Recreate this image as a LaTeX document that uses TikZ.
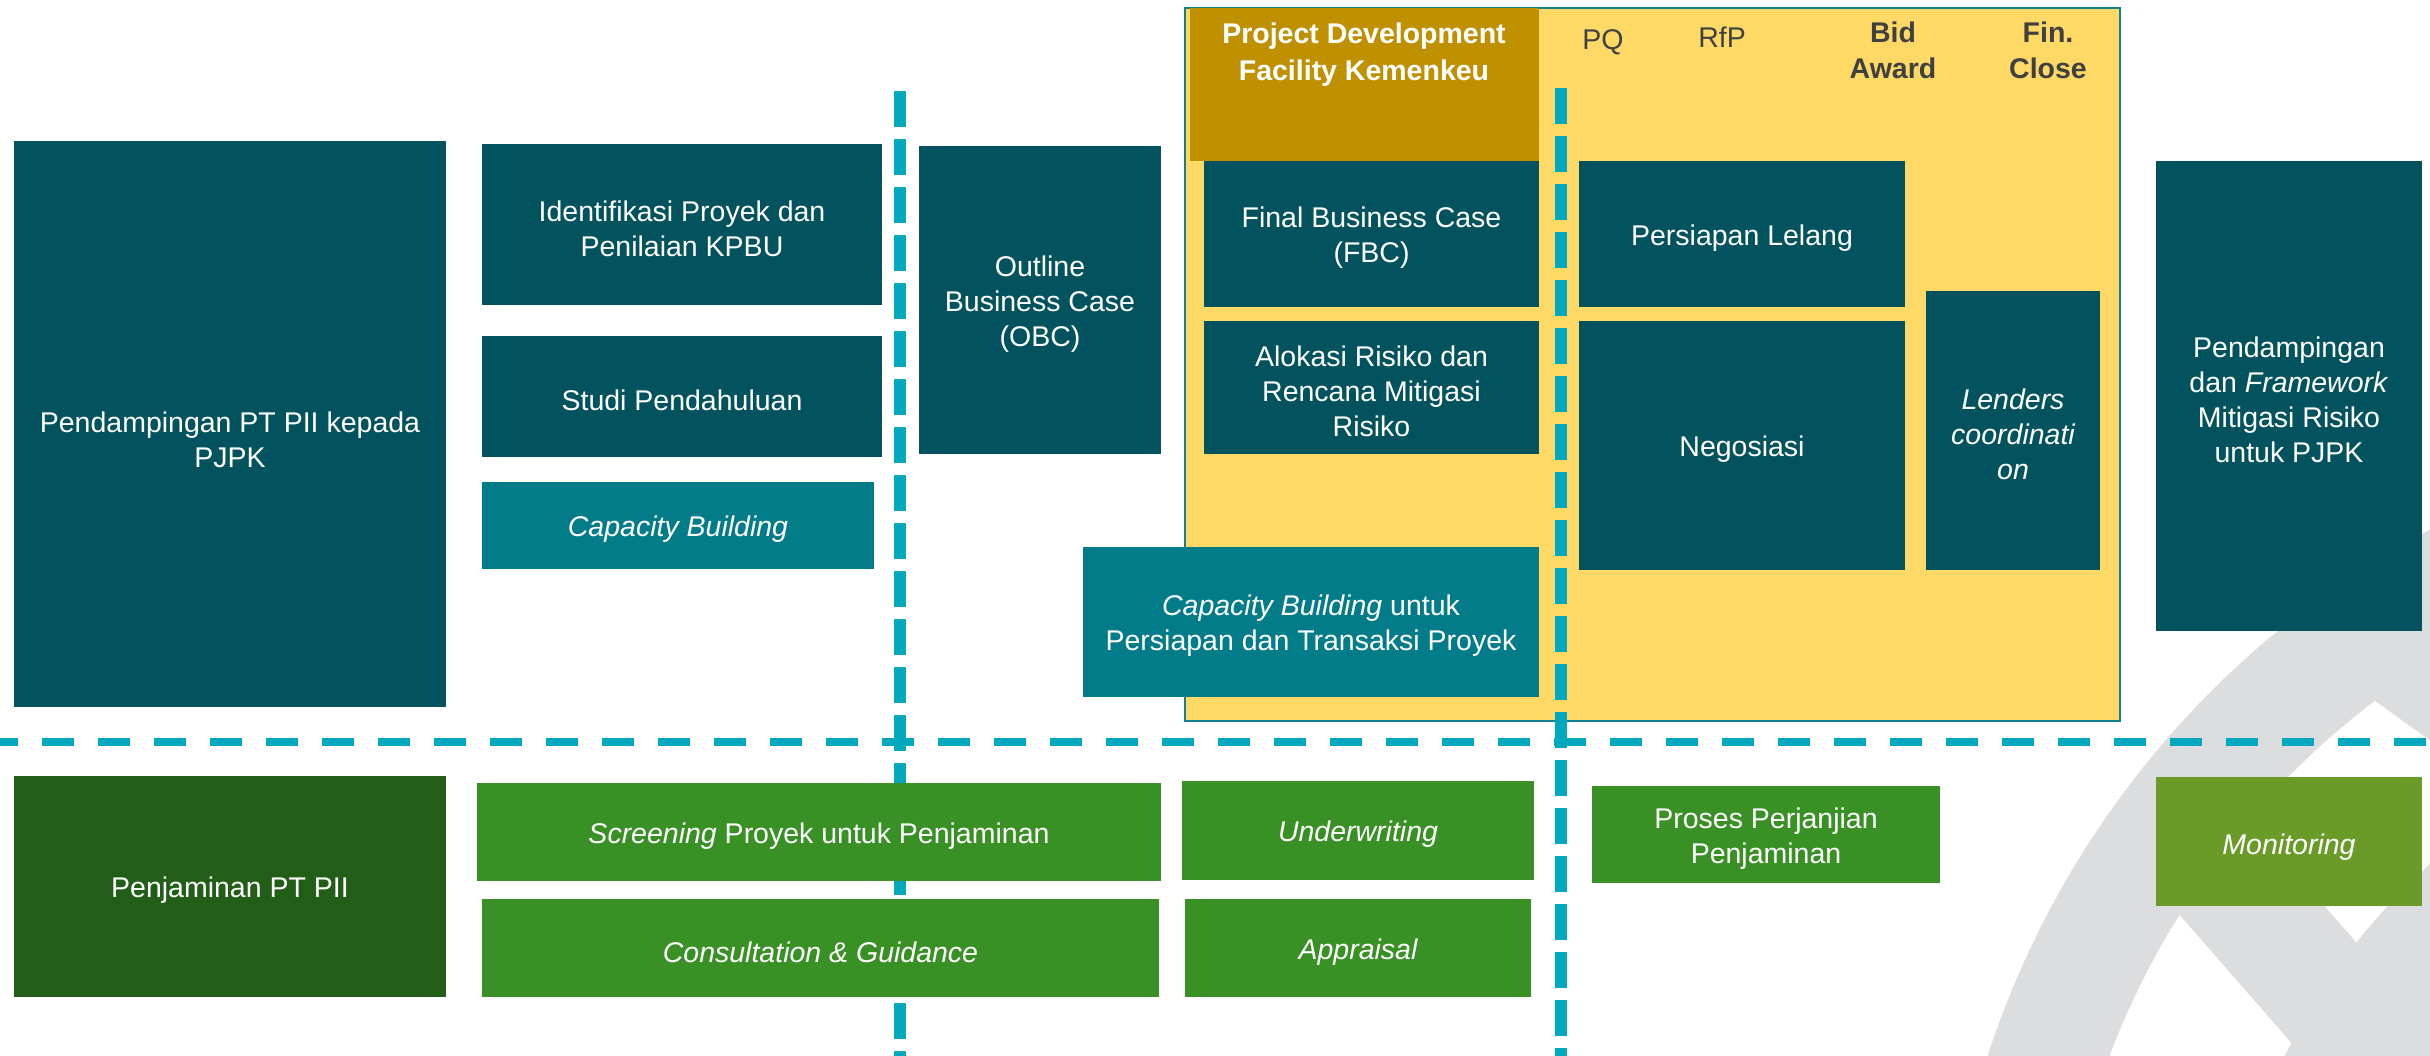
\documentclass[tikz,border=0pt]{standalone}
\usepackage{fontspec}
\setmainfont{Liberation Sans}
\definecolor{cDteal}{RGB}{2,83,94}
\definecolor{cTeal}{RGB}{3,124,138}
\definecolor{cYel}{RGB}{255,217,102}
\definecolor{cGold}{RGB}{191,144,0}
\definecolor{cBorder}{RGB}{20,128,140}
\definecolor{cDgreen}{RGB}{35,94,25}
\definecolor{cGreen}{RGB}{57,145,37}
\definecolor{cLgreen}{RGB}{106,155,41}
\definecolor{cLine}{RGB}{4,168,190}
\definecolor{cHead}{RGB}{64,64,64}
\definecolor{cWm}{RGB}{220,221,222}
% box with its text shifted down by the optional amount (px)
\newcommand\bx[6][4]{%
  \node[#2, minimum width=#4pt, minimum height=#5pt] (#3) at (#3pos) {};%
  \node[txt] (#3t) at ([yshift=-#1pt]#3.center) {#6};}
\begin{document}
\begin{tikzpicture}[x=1pt,y=-1pt,
  every node/.style={inner sep=0pt, outer sep=0pt},
  txt/.style={align=center, text=white, font=\fontsize{28.5}{35}\selectfont},
  blk/.style={rectangle, anchor=north west},
  dteal/.style={blk, fill=cDteal},
  lteal/.style={blk, fill=cTeal},
  dgreen/.style={blk, fill=cDgreen},
  green/.style={blk, fill=cGreen},
  lgreen/.style={blk, fill=cLgreen},
  head/.style={align=center, text=cHead, font=\fontsize{28.5}{36}\selectfont},
  hline/.style={draw=cLine, line width=8pt, dash pattern=on 32pt off 24pt},
  vline/.style={draw=cLine, line width=12pt, dash pattern=on 36pt off 12pt},
  wm/.style={draw=cWm, line width=115pt}
]
\useasboundingbox (0,0) rectangle (2430,1056);
\begin{scope}
\clip (0,0) rectangle (2430,1056);
\fill[white] (0,0) rectangle (2430,1056);
% watermark
\draw[wm] ([shift={(2860,1340)}]193:860) arc[start angle=193, end angle=247, radius=860];
\draw[wm] ([shift={(2860,1340)}]200:584) arc[start angle=200, end angle=236, radius=584];
\coordinate (wd1) at (2215,868);
\coordinate (wd2) at (2470,1160);
\draw[wm] (wd1) -- (wd2);
\coordinate (wf1) at (2316,587);
\coordinate (wf2) at (2530,742);
\draw[wm] (wf1) -- (wf2);

% yellow phase box
\node[blk, fill=cYel, draw=cBorder, line width=2.5pt, minimum width=935pt, minimum height=713pt] (yel) at (1185,8) {};

% dashed lines
\coordinate (h1) at (-14,742);
\coordinate (h2) at (2450,742);
\draw[hline] (h1) -- (h2);
\coordinate (v1a) at (900,91);
\coordinate (v1b) at (900,1070);
\draw[vline] (v1a) -- (v1b);
\coordinate (v2a) at (1561,88);
\coordinate (v2b) at (1561,1070);
\draw[vline] (v2a) -- (v2b);

% headers
\node[blk, fill=cGold, minimum width=349pt, minimum height=153pt] (pdf) at (1190,8) {};
\node[anchor=north, align=center, text=white, font=\bfseries\fontsize{28.5}{37}\selectfont] (pdft) at (1364,23) {Project Development\\Facility Kemenkeu};
\node[head] (pq) at (1603,42) {PQ};
\node[head] (rfp) at (1722,37) {RfP};
\node[head, font=\bfseries\fontsize{28.5}{36}\selectfont] (bid) at (1893,50) {Bid\\Award};
\node[head, font=\bfseries\fontsize{28.5}{36}\selectfont] (fin) at (2048,50) {Fin.\\Close};

% positions (top-left corners)
\coordinate (pendpos) at (14,141);
\coordinate (identpos) at (482,144);
\coordinate (studipos) at (482,336);
\coordinate (cap1pos) at (482,482);
\coordinate (obcpos) at (919,146);
\coordinate (fbcpos) at (1204,161);
\coordinate (alokpos) at (1204,321);
\coordinate (cap2pos) at (1083,547);
\coordinate (lelangpos) at (1579,161);
\coordinate (negopos) at (1579,321);
\coordinate (lendpos) at (1926,291);
\coordinate (pfwpos) at (2156,161);
\coordinate (penjpos) at (14,776);
\coordinate (scrpos) at (477,783);
\coordinate (conspos) at (482,899);
\coordinate (underpos) at (1182,781);
\coordinate (apprpos) at (1185,899);
\coordinate (prosespos) at (1592,786);
\coordinate (monipos) at (2156,777);

% top row (pendampingan)
\bx[16]{dteal}{pend}{432}{566}{Pendampingan PT PII kepada\\PJPK}
\bx{dteal}{ident}{400}{161}{Identifikasi Proyek dan\\Penilaian KPBU}
\bx{dteal}{studi}{400}{121}{Studi Pendahuluan}
\bx{lteal}{cap1}{392}{87}{\itshape Capacity Building}
\bx{dteal}{obc}{242}{308}{Outline\\Business Case\\(OBC)}
\bx{dteal}{fbc}{335}{146}{Final Business Case\\(FBC)}
\bx{dteal}{alok}{335}{133}{Alokasi Risiko dan\\Rencana Mitigasi\\Risiko}
\bx{lteal}{cap2}{456}{150}{\textit{Capacity Building} untuk\\Persiapan dan Transaksi Proyek}
\bx{dteal}{lelang}{326}{146}{Persiapan Lelang}
\bx{dteal}{nego}{326}{249}{Negosiasi}
\bx{dteal}{lend}{174}{279}{\itshape Lenders\\\itshape coordinati\\\itshape on}
\bx{dteal}{pfw}{266}{470}{Pendampingan\\dan \textit{Framework}\\Mitigasi Risiko\\untuk PJPK}

% bottom row (penjaminan)
\bx{dgreen}{penj}{432}{221}{Penjaminan PT PII}
\bx{green}{scr}{684}{98}{\textit{Screening} Proyek untuk Penjaminan}
\bx{green}{cons}{677}{98}{\itshape Consultation \& Guidance}
\bx{green}{under}{352}{99}{\itshape Underwriting}
\bx{green}{appr}{346}{98}{\itshape Appraisal}
\bx{green}{proses}{348}{97}{Proses Perjanjian\\Penjaminan}
\bx[6]{lgreen}{moni}{266}{129}{\itshape Monitoring}
\end{scope}
\end{tikzpicture}
\end{document}
